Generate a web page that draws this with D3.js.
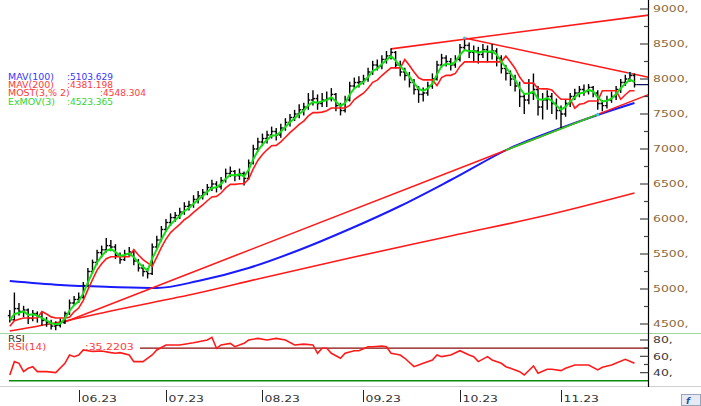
<!DOCTYPE html>
<html>
<head>
<meta charset="utf-8">
<script src="https://cdn.jsdelivr.net/npm/d3@7"></script>
<style>
  body { margin: 0; background: #fff; }
  svg { display: block; font-family: "DejaVu Sans", sans-serif; }
</style>
</head>
<body>
<div id="chart"></div>
<script>
// trading calendar (weekdays, exchange holidays skipped)
var firstDay = new Date(2023, 4, 10), lastDay = new Date(2023, 10, 23);
var holidays = ["2023-05-19", "2023-06-28", "2023-06-29", "2023-06-30", "2023-08-30"];

// daily bars
var open = [4620,4560,4720,4680,4700,4580,4650,4600,4550,4520,
  4470,4480,4520,4650,4800,4850,4880,5050,5250,5380,
  5520,5560,5620,5600,5480,5420,5500,5530,5400,5300,
  5250,5220,5600,5700,5850,5950,6020,6050,6100,6180,
  6200,6280,6330,6380,6450,6500,6460,6550,6650,6680,
  6620,6650,6580,6800,7000,7100,7150,7200,7250,7200,
  7300,7380,7450,7500,7560,7600,7700,7720,7650,7700,
  7720,7780,7620,7550,7700,7900,7950,7960,8000,8100,
  8200,8180,8280,8330,8380,8200,8100,8050,7950,7850,
  7780,7800,7900,8000,8200,8300,8250,8200,8280,8450,
  8480,8380,8400,8350,8420,8380,8400,8300,8150,8080,
  8000,7900,7750,7700,7800,7850,7600,7700,7750,7650,
  7550,7500,7650,7750,7800,7850,7820,7880,7800,7650,
  7620,7700,7750,7850,7950,8000,8050];
var high = [4700,4950,4800,4760,4720,4700,4680,4660,4600,4560,
  4540,4580,4680,4850,4900,4950,5100,5300,5420,5560,
  5620,5730,5700,5640,5520,5560,5600,5560,5430,5350,
  5300,5650,5760,5900,6000,6080,6100,6160,6240,6260,
  6340,6400,6430,6500,6560,6540,6600,6720,6750,6700,
  6720,6680,6850,7060,7160,7220,7260,7320,7300,7360,
  7440,7500,7560,7640,7660,7800,7840,7780,7800,7820,
  7870,7800,7660,7760,7960,8020,8040,8060,8160,8260,
  8280,8340,8400,8440,8400,8260,8160,8100,8000,7900,
  7880,7960,8080,8260,8360,8340,8300,8340,8500,8560,
  8520,8480,8460,8500,8480,8500,8440,8340,8200,8120,
  8060,7960,7800,8000,8080,7900,7800,7840,7800,7720,
  7620,7700,7800,7860,7900,7920,7930,7900,7840,7700,
  7760,7820,7900,8000,8060,8100,8080];
var low = [4520,4550,4620,4600,4500,4540,4520,4480,4460,4420,
  4410,4450,4500,4630,4760,4800,4860,5030,5220,5350,
  5450,5520,5540,5430,5360,5400,5460,5340,5250,5180,
  5150,5200,5560,5680,5820,5900,5960,6000,6060,6120,
  6160,6220,6280,6340,6400,6380,6420,6520,6600,6540,
  6560,6480,6560,6780,6960,7040,7080,7150,7120,7160,
  7260,7320,7400,7440,7480,7560,7620,7560,7600,7600,
  7680,7540,7480,7520,7680,7860,7880,7920,7960,8060,
  8120,8140,8220,8280,8150,8040,7980,7880,7780,7660,
  7680,7760,7860,7980,8160,8180,8120,8160,8250,8400,
  8300,8240,8220,8300,8240,8280,8180,8080,7980,7900,
  7820,7600,7500,7640,7700,7480,7420,7560,7500,7420,
  7300,7460,7600,7700,7740,7760,7780,7740,7560,7540,
  7580,7660,7700,7800,7900,7960,7880];
var close = [4560,4720,4680,4700,4580,4650,4600,4550,4520,4470,
  4480,4520,4650,4800,4850,4880,5050,5250,5380,5520,
  5560,5620,5600,5480,5420,5500,5530,5400,5300,5250,
  5220,5600,5700,5850,5950,6020,6050,6100,6180,6200,
  6280,6330,6380,6450,6500,6460,6550,6650,6680,6620,
  6650,6580,6800,7000,7100,7150,7200,7250,7200,7300,
  7380,7450,7500,7560,7600,7700,7720,7650,7700,7720,
  7780,7620,7550,7700,7900,7950,7960,8000,8100,8200,
  8180,8280,8330,8380,8200,8100,8050,7950,7850,7780,
  7800,7900,8000,8200,8300,8250,8200,8280,8450,8480,
  8380,8400,8350,8420,8380,8400,8300,8150,8080,8000,
  7900,7750,7700,7800,7850,7600,7700,7750,7650,7550,
  7500,7650,7750,7800,7850,7820,7880,7800,7650,7620,
  7700,7750,7850,7950,8000,8050,7920];

// moving averages, sampled (bar number -> value)
var mav100Bar = [0, 11, 22, 32, 41, 52, 63, 74, 85, 96, 109, 120, 128, 136];
var mav100 = [5114, 5057, 5029, 5014, 5114, 5300, 5557, 5857, 6186, 6557, 7014, 7300, 7486, 7657];
var mav200Bar = [0, 12, 22, 41, 54, 74, 96, 118, 136];
var mav200 = [4400, 4543, 4686, 4943, 5143, 5443, 5757, 6071, 6371];

// RSI(14), sampled
var rsiBar = [0,1,2,3,4,5,6,8,10,12,13,14,15,16,18,20,22,23,24,26,27,29,31,32,34,37,40,43,44,45,46,48,49,51,52,54,56,58,60,62,64,66,67,68,69,70,72,73,75,76,78,79,81,82,83,85,86,88,89,90,92,93,94,96,98,100,101,102,104,105,107,108,109,111,112,114,115,117,118,120,121,123,126,128,129,131,134,136];
var rsi = [37,53.5,51.4,41.2,45.3,47.3,41.2,41.2,40,51.4,61.6,59.6,61.6,67.8,66,66.5,64.5,63.7,64.5,61.6,53.5,53.5,61.6,67.8,73.9,73.9,76.7,80,83.3,69.8,73.9,75.9,71.8,75.9,80,82,80,82,80,73.9,75,73.9,63.7,69.8,69.8,63.7,57.6,63.7,66.9,66.9,71.8,71.8,72.6,71.8,63.7,61.6,57.6,47.3,49.4,51.4,55.5,61.6,59.6,61.6,66.9,61.6,59.6,53.5,59.6,55.5,51.4,47.3,45.3,41.2,37.1,48.2,39.2,44.1,44.1,42.5,45.3,49.4,49.4,43.3,46.5,49.4,56.3,51.4];

// trend lines drawn on the chart: [bar, price] anchors, extended to the axis
var trendTop = [[83, 8430], [136, 8886]];
var trendDown = [[99, 8586], [135, 8081]];
var trendSupport = [[12, 4530], [120, 7290]];
var trendGreen = [[108, 6983], [128, 7494]];

var priceTicks = [4500, 5000, 5500, 6000, 6500, 7000, 7500, 8000, 8500, 9000];
var rsiTicks = [40, 60, 80];
var monthLabels = ["06.23", "07.23", "08.23", "09.23", "10.23", "11.23"];
var legendNames = ["MAV(100)", "MAV(200)", "MOST(3,% 2)", "ExMOV(3)"];
var legendValues = [":5103.629", ":4381.198", ":4548.304", ":4523.365"];

var W = 701, H = 406;
var axisX = 648.5;

var fmt = d3.timeFormat("%Y-%m-%d");
var days = d3.timeDay.range(firstDay, d3.timeDay.offset(lastDay, 1))
    .filter(function (d) { return d.getDay() != 0 && d.getDay() != 6 && holidays.indexOf(fmt(d)) < 0; });

var svg = d3.select("#chart").append("svg")
    .attr("width", W).attr("height", H);

// scales
var x = d3.scaleLinear().domain([0, days.length - 1]).range([9.8, 634.5]);
var y = d3.scaleLinear().domain([4500, 9000]).range([324, 9]);
var yr = d3.scaleLinear().domain([30, 80]).range([380.8, 340]);

svg.append("clipPath").attr("id", "main")
    .append("rect").attr("x", 0).attr("y", 0).attr("width", axisX).attr("height", 333);
svg.append("clipPath").attr("id", "sub")
    .append("rect").attr("x", 0).attr("y", 334).attr("width", axisX).attr("height", 52);

var g = svg.append("g").attr("clip-path", "url(#main)");

function stretched(sel, px, py, str, color, sx, size) {
    return sel.append("text")
        .attr("transform", "translate(" + px + "," + py + ") scale(" + (sx || 1.38) + ",1)")
        .attr("font-size", size || 9)
        .attr("fill", color)
        .text(str);
}

// sampled line helper
function sampled(bars, vals, ys) {
    return d3.line()
        .x(function (d) { return x(d[0]); })
        .y(function (d) { return ys(d[1]); })
        .curve(d3.curveMonotoneX)(bars.map(function (b, i) { return [b, vals[i]]; }));
}

g.append("path").attr("d", sampled(mav200Bar, mav200, y))
    .attr("fill", "none").attr("stroke", "#ff1a1a").attr("stroke-width", 1.6);
g.append("path").attr("d", sampled(mav100Bar, mav100, y))
    .attr("fill", "none").attr("stroke", "#1a1aff").attr("stroke-width", 2);

// trend line through two anchors, out to the axis
function trend(a, color, extend) {
    var x1 = x(a[0][0]), y1 = y(a[0][1]), x2 = x(a[1][0]), y2 = y(a[1][1]);
    var k = (y2 - y1) / (x2 - x1);
    var xe = extend ? axisX : x2;
    g.append("line")
        .attr("x1", x1).attr("y1", y1)
        .attr("x2", xe).attr("y2", y1 + k * (xe - x1))
        .attr("stroke", color).attr("stroke-width", 1.6);
}
trend(trendSupport, "#ff1a1a", true);
trend(trendGreen, "#19d219", false);
trend(trendTop, "#ff1a1a", true);
trend(trendDown, "#ff1a1a", true);

// anchor dots
[trendDown[0], trendDown[1], trendGreen[1]].forEach(function (p) {
    g.append("circle").attr("cx", x(p[0])).attr("cy", y(p[1])).attr("r", 1.6).attr("fill", "#3cc4e0");
});

// OHLC bars
var bars = g.append("g").attr("stroke", "#000").attr("stroke-width", 1.4);
close.forEach(function (c, i) {
    var bx = x(i);
    bars.append("line").attr("x1", bx).attr("x2", bx).attr("y1", y(high[i])).attr("y2", y(low[i]));
    bars.append("line").attr("x1", bx - 2).attr("x2", bx).attr("y1", y(open[i])).attr("y2", y(open[i]));
    bars.append("line").attr("x1", bx).attr("x2", bx + 2).attr("y1", y(c)).attr("y2", y(c));
});

// ExMOV(3) and MOST(3, %2) from closes
var ema = [];
close.forEach(function (c, i) { ema.push(i ? ema[i - 1] + (c - ema[i - 1]) * 0.5 : c); });
var most = [], up = true;
ema.forEach(function (e, i) {
    if (i == 0) { most.push(e * 0.98); return; }
    var s;
    if (up) {
        s = Math.max(most[i - 1], e * 0.98);
        if (e < s) { up = false; s = e * 1.02; }
    } else {
        s = Math.min(most[i - 1], e * 1.02);
        if (e > s) { up = true; s = e * 0.98; }
    }
    most.push(s);
});

var line = d3.line().x(function (d, i) { return x(i); }).y(function (d) { return y(d); });
g.append("path").attr("d", line(most))
    .attr("fill", "none").attr("stroke", "#ff1a1a").attr("stroke-width", 1.6);
g.append("path").attr("d", line(ema))
    .attr("fill", "none").attr("stroke", "#12e012").attr("stroke-width", 2);

// last price marker
g.append("line")
    .attr("x1", x(close.length - 1) + 2).attr("x2", axisX)
    .attr("y1", y(close[close.length - 1])).attr("y2", y(close[close.length - 1]))
    .attr("stroke", "#101060").attr("stroke-width", 1.3);

// legend
var legendColors = ["#3636ff", "#ff3a3a", "#ff3a3a", "#2ed62e"];
var legendValueX = [67, 67, 100, 67];
legendNames.forEach(function (n, i) {
    var ly = 79.5 + i * 8.4;
    stretched(svg, 8, ly, n, legendColors[i], 1.1, 8.6);
    stretched(svg, legendValueX[i], ly, legendValues[i], legendColors[i], 1.05, 8.6);
});

// panel separators
svg.append("line").attr("x1", 0).attr("x2", W).attr("y1", 333.5).attr("y2", 333.5)
    .attr("stroke", "#9ed89e").attr("stroke-width", 1.2);
svg.append("line").attr("x1", 0).attr("x2", W).attr("y1", 386.5).attr("y2", 386.5)
    .attr("stroke", "#cfcfcf").attr("stroke-width", 1.2);

// RSI panel
var s = svg.append("g").attr("clip-path", "url(#sub)");
s.append("line").attr("x1", 140).attr("x2", axisX).attr("y1", yr(70)).attr("y2", yr(70))
    .attr("stroke", "#8a0a0a").attr("stroke-width", 1.2);
s.append("line").attr("x1", 9).attr("x2", axisX).attr("y1", yr(30)).attr("y2", yr(30))
    .attr("stroke", "#0a8a0a").attr("stroke-width", 1.6);
s.append("path")
    .attr("d", d3.line().x(function (d) { return x(d[0]); }).y(function (d) { return yr(d[1]); })(rsiBar.map(function (b, i) { return [b, rsi[i]]; })))
    .attr("fill", "none").attr("stroke", "#ff1a1a").attr("stroke-width", 1.6);
stretched(svg, 8, 342, "RSI", "#303030", 1.3, 8);
stretched(svg, 8, 350, "RSI(14)", "#ff3a3a", 1.3, 8);
stretched(svg, 85, 349.5, ":35.2203", "#ff3a3a", 1.3, 8.4);

// price axis
svg.append("line").attr("x1", axisX).attr("x2", axisX).attr("y1", 0).attr("y2", 387)
    .attr("stroke", "#000").attr("stroke-width", 1.2);
var ax = svg.append("g");
priceTicks.forEach(function (p, i) {
    ax.append("line").attr("x1", 640).attr("x2", axisX).attr("y1", y(p)).attr("y2", y(p))
        .attr("stroke", "#444").attr("stroke-width", 1.2);
    if (i < priceTicks.length - 1) {
        var m = (p + priceTicks[i + 1]) / 2;
        ax.append("line").attr("x1", 644).attr("x2", axisX).attr("y1", y(m)).attr("y2", y(m))
            .attr("stroke", "#444").attr("stroke-width", 1.2);
    }
    stretched(ax, 653, y(p) + 3.2, p + ",", "#8a6a3c");
});
[50, 70].forEach(function (r) {
    ax.append("line").attr("x1", 644).attr("x2", axisX).attr("y1", yr(r)).attr("y2", yr(r))
        .attr("stroke", "#444").attr("stroke-width", 1.2);
});
rsiTicks.forEach(function (r) {
    ax.append("line").attr("x1", 640).attr("x2", axisX).attr("y1", yr(r)).attr("y2", yr(r))
        .attr("stroke", "#444").attr("stroke-width", 1.2);
    stretched(ax, 653, yr(r) + 3.2, r + ",", "#3a3a3a");
});

// month axis: first trading day of each month
var monthStarts = [];
days.forEach(function (d, i) {
    if (i > 0 && d.getMonth() != days[i - 1].getMonth()) monthStarts.push(i);
});
monthStarts.forEach(function (i, k) {
    var mx = Math.round(x(i)) + 0.5;
    svg.append("line").attr("x1", mx).attr("x2", mx).attr("y1", 390).attr("y2", 402)
        .attr("stroke", "#222").attr("stroke-width", 1);
    stretched(svg, mx + 2, 401.5, monthLabels[k], "#333");
});

// small corner button
svg.append("rect").attr("x", 681.5).attr("y", 394.5).attr("width", 19).attr("height", 11)
    .attr("fill", "#e6eaf2").attr("stroke", "#98a4bc");
svg.append("text").attr("x", 686).attr("y", 404).attr("font-size", 9)
    .attr("font-weight", "bold").attr("font-style", "italic").attr("fill", "#1f4fb0").text("f");
</script>
</body>
</html>
